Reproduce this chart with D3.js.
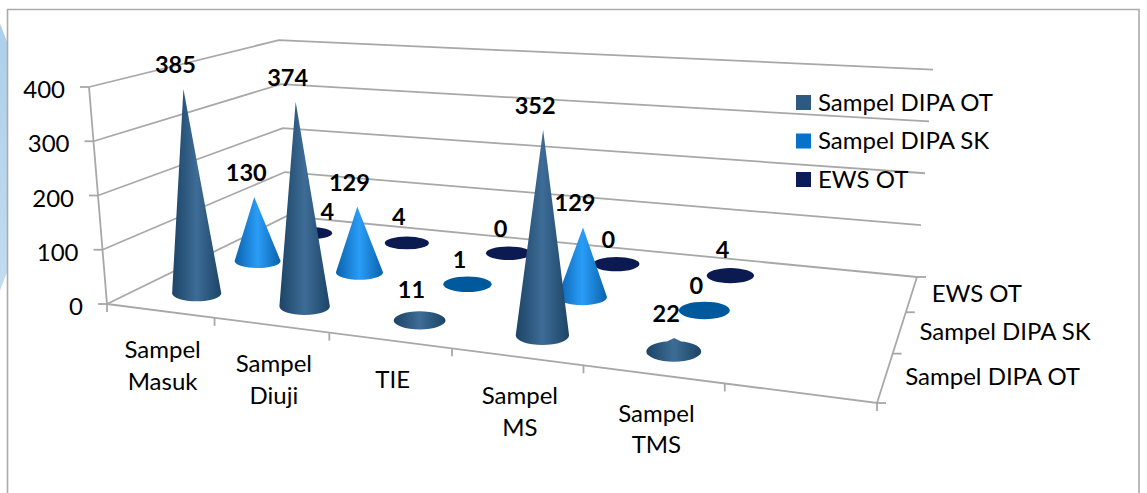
<!DOCTYPE html>
<html>
<head>
<meta charset="utf-8">
<script src="https://cdn.jsdelivr.net/npm/d3@7/dist/d3.min.js"></script>
<style>
html,body{margin:0;padding:0;background:#fff;overflow:hidden}
svg{display:block}
text{font-family:Lato,"Open Sans",sans-serif;fill:#000}
</style>
</head>
<body>
<svg id="chart" width="1147" height="493"></svg>
<script>
// ---- data ----
const categories = [["Sampel","Masuk"],["Sampel","Diuji"],["TIE"],["Sampel","MS"],["Sampel","TMS"]];
const seriesNames = ["Sampel DIPA OT","Sampel DIPA SK","EWS OT"];
const sampelDipaOT = [385,374,11,352,22];
const sampelDipaSK = [130,129,1,129,0];
const ewsOT = [4,4,0,0,4];
const valueTicks = [0,100,200,300,400];

// ---- styles ----
const seriesValues = [sampelDipaOT,sampelDipaSK,ewsOT];
const legendColors = ["#2c5a81","#0672c9","#0c1c58"];
const flatColors = ["#244f75","#00599c","#0b1a50"];
const gradColors = [["#1c4466","#3d6c96"],["#0a62ad","#2a9df7"],["#0b1a50","#0b1a50"]];
const gridColor = "#a8a8a8";

// ---- projection: floor of the 3D plot on screen, plus vertical vanishing point ----
const floorQuad = [[107,304],[877,403],[917,277],[287,216]];
const vanish = [525,5344];
function homography(q){
  const [[x0,y0],[x1,y1],[x2,y2],[x3,y3]] = q;
  const dx1=x1-x2,dx2=x3-x2,sx=x0-x1+x2-x3,dy1=y1-y2,dy2=y3-y2,sy=y0-y1+y2-y3;
  const den=dx1*dy2-dx2*dy1;
  const g=(sx*dy2-dx2*sy)/den,h=(dx1*sy-sx*dy1)/den;
  const a=x1-x0+g*x1,b=x3-x0+h*x3,d=y1-y0+g*y1,e=y3-y0+h*y3;
  return (u,v)=>{const w=g*u+h*v+1;return [(a*u+b*v+x0)/w,(d*u+e*v+y0)/w,w];};
}
const floorH=homography(floorQuad);
const slots=d3.range(6);
const xScale=d3.scaleBand().domain(slots).range([0,1]);
const zScale=d3.scaleBand().domain(d3.range(3)).range([0,1]);
const yScale=d3.scaleLinear().domain([0,400]).range([0,217]);
function project(u,v,val){
  const [bx,by,w]=floorH(u,v);
  const H=yScale(val)/w;
  return [bx+(bx-vanish[0])/(vanish[1]-by)*H,by-H];
}
const cu=i=>xScale(i)+xScale.bandwidth()*0.525;
const cv=s=>zScale(s)+zScale.bandwidth()/2;

const svg=d3.select("#chart");
const defs=svg.append("defs");

// background ornament
const orn=defs.append("linearGradient").attr("id","orn").attr("x1",0).attr("x2",0).attr("y1",0).attr("y2",1);
orn.append("stop").attr("offset",0).attr("stop-color","#9cc5e5");
orn.append("stop").attr("offset",1).attr("stop-color","#d3e6f4");
svg.append("circle").attr("cx",-315).attr("cy",157).attr("r",342).attr("fill","url(#orn)");
svg.append("rect").attr("x",8).attr("y",10).attr("width",1131).attr("height",483).attr("fill","#fff");

// frame
svg.append("path").attr("d","M7.5,493V9.5H1139V493").attr("fill","none").attr("stroke","#ababab").attr("stroke-width",1.6);

// grid
const line=d3.line();
const gg=svg.append("g").attr("fill","none").attr("stroke",gridColor).attr("stroke-width",1.8);
valueTicks.forEach(t=>{
  gg.append("path").attr("d",line([project(0,0,t),project(0,1,t),project(1,1,t)]));
  const a=project(0,0,t);
  gg.append("path").attr("d",line([[a[0]-9,a[1]],a]));
});
gg.append("path").attr("d",line([project(0,0,0),project(0,0,400)]));
gg.append("path").attr("d",line([project(0,0,0),project(1,0,0),project(1,1,0)]));
const tickU=slots.map(i=>xScale(i)).concat([1]);
tickU.forEach(u=>{const p=project(u,0,0);gg.append("path").attr("d",line([p,[p[0],p[1]+8]]));});
const tickV=d3.range(3).map(s=>zScale(s)).concat([1]);
tickV.forEach(v=>{const p=project(1,v,0);gg.append("path").attr("d",line([p,[p[0]+9,p[1]]]));});

// marks
const rxScale=d3.scaleLinear().domain([231,352]).range([21.5,27.5]);
function ryOf(u,v){
  const a=floorH(u,v-0.02),b=floorH(u,v+0.02);
  return Math.abs(a[1]-b[1])/0.04*0.078;
}
[2,1,0].forEach(s=>{
  const g=defs.append("linearGradient").attr("id","cone"+s);
  g.append("stop").attr("offset",0).attr("stop-color",gradColors[s][0]);
  g.append("stop").attr("offset",0.5).attr("stop-color",gradColors[s][1]);
  g.append("stop").attr("offset",1).attr("stop-color",gradColors[s][0]);
});
const marks=svg.append("g");
[2,1,0].forEach(s=>{
  seriesValues[s].forEach((val,i)=>{
    const u=cu(i),v=cv(s),b=project(u,v,0),t=project(u,v,val);
    const rx=rxScale(b[1]),ry=ryOf(u,v);
    const L=b[0]-rx,R=b[0]+rx,y=b[1];
    const d=`M${L},${y}A${rx},${ry} 0 0 1 ${R},${y}A${rx},${ry} 0 0 1 ${L},${y}Z`+
            (val>5?`M${t[0]},${t[1]}L${R},${y}L${L},${y}Z`:"");
    marks.append("path").attr("d",d).attr("fill",val>5?`url(#cone${s})`:flatColors[s]);
  });
});

// data labels
const labels=svg.append("g").attr("text-anchor","middle");
[2,1,0].forEach(s=>{
  seriesValues[s].forEach((val,i)=>{
    const t=project(cu(i),cv(s),val);
    const shifted=(s===2&&i===0);
    labels.append("text").attr("x",t[0]+(shifted?17:-8)).attr("y",t[1]+(shifted?-11:-16))
      .style("font-size","23.5px").style("font-weight",700).text(val);
  });
});

// value axis labels
valueTicks.forEach(t=>{
  const p=project(0,0,t);
  svg.append("text").attr("x",p[0]-24).attr("y",p[1]+11).attr("text-anchor","end").style("font-size","24px").text(t);
});
// category labels
categories.forEach((c,i)=>{
  const p=project(cu(i),0,0);
  c.forEach((ln,k)=>svg.append("text").attr("x",p[0]).attr("y",p[1]+47+k*31.5).attr("text-anchor","middle").style("font-size","24px").text(ln));
});
// depth labels
seriesNames.forEach((n,s)=>{
  const p=project(1,cv(s),0);
  svg.append("text").attr("x",p[0]+20).attr("y",p[1]+8).style("font-size","24px").text(n);
});
// legend
const legendY=d3.scalePoint().domain(d3.range(3)).range([102.5,179.5]);
seriesNames.forEach((n,s)=>{
  svg.append("rect").attr("x",796).attr("y",legendY(s)-7.5).attr("width",15).attr("height",15).attr("fill",legendColors[s]);
  svg.append("text").attr("x",818).attr("y",legendY(s)+8).style("font-size","24px").text(n);
});
</script>
</body>
</html>
